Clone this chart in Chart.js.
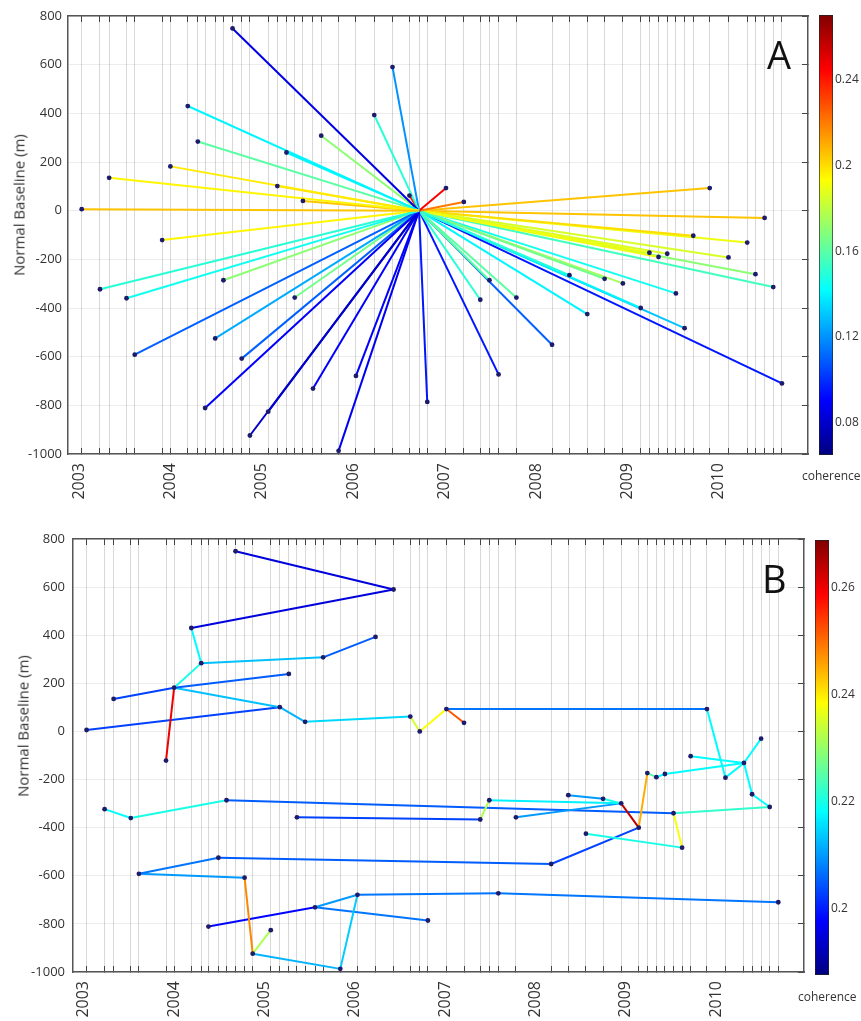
<!DOCTYPE html>
<html><head><meta charset="utf-8">
<script src="https://cdn.jsdelivr.net/npm/chart.js@4/dist/chart.umd.min.js"></script>
<style>
html,body{margin:0;padding:0;background:#fff}
body{width:861px;height:1021px;position:relative;overflow:hidden;font-family:"Open Sans",sans-serif}
canvas{position:absolute}
.t{position:absolute;font-family:"Open Sans",sans-serif;color:#333;white-space:nowrap;line-height:1}
</style></head><body>
<canvas id="mainA" width="812" height="515" style="left:0;top:0"></canvas>
<canvas id="barA" width="49" height="515" style="left:812px;top:0"></canvas>
<canvas id="mainB" width="808" height="501" style="left:0;top:520px"></canvas>
<canvas id="barB" width="53" height="501" style="left:808px;top:520px"></canvas>
<div class="t" style="left:19px;top:205px;font-size:15px;transform:translate(-50%,-50%) rotate(-90deg)">Normal Baseline (m)</div>
<div class="t" style="left:23px;top:726px;font-size:15px;transform:translate(-50%,-50%) rotate(-90deg)">Normal Baseline (m)</div>
<div class="t" style="left:767px;top:35px;font-size:38px;color:#111">A</div>
<div class="t" style="left:762px;top:559px;font-size:38px;color:#111">B</div>
<div class="t" style="left:802px;top:470px;font-size:12px">coherence</div>
<div class="t" style="left:798px;top:991px;font-size:12px">coherence</div>
<script>
// ---------------- data ----------------
const yearTicks = [2003, 2004, 2005, 2006, 2007, 2008, 2009, 2010];
// acquisition dates (decimal year) and normal baselines (m)
const acqDates = [2003.03, 2003.23, 2003.33, 2003.52, 2003.61, 2003.91, 2004.0, 2004.19, 2004.30, 2004.38,
  2004.49, 2004.58, 2004.68, 2004.78, 2004.87, 2005.07, 2005.17, 2005.27, 2005.36, 2005.45,
  2005.56, 2005.65, 2005.84, 2006.03, 2006.23, 2006.43, 2006.615, 2006.72, 2006.81, 2007.015,
  2007.21, 2007.39, 2007.49, 2007.59, 2007.785, 2008.175, 2008.365, 2008.56, 2008.75, 2008.95,
  2009.145, 2009.24, 2009.34, 2009.435, 2009.53, 2009.625, 2009.72, 2009.90, 2010.105, 2010.31,
  2010.40, 2010.50, 2010.595, 2010.69];
const normalBaseline = [6, -323, 135, -360, -592, -121, 182, 430, 284, -811,
  -525, -286, 749, -608, -924, -826, 101, 239, -357, 40,
  -731, 308, -987, -679, 393, 590, 62, 0, -786, 93,
  36, -366, -286, -673, -357, -551, -265, -425, -280, -299,
  -400, -173, -190, -177, -340, -483, -103, 93, -192, -131,
  -261, -30, -314, -710];
const masterNumber = 28; // acquisition number (1-based) of the common master
// panel A: coherence of each acquisition with the master
const coherenceA = [0.205, 0.15, 0.195, 0.145, 0.11, 0.195, 0.197, 0.14, 0.16, 0.09,
  0.125, 0.17, 0.085, 0.11, 0.08, 0.08, 0.2, 0.14, 0.165, 0.205,
  0.09, 0.17, 0.088, 0.09, 0.15, 0.12, 0.24, null, 0.095, 0.245,
  0.22, 0.15, 0.16, 0.095, 0.16, 0.11, 0.15, 0.14, 0.165, 0.175,
  0.14, 0.19, 0.19, 0.185, 0.145, 0.13, 0.2, 0.205, 0.185, 0.19,
  0.17, 0.205, 0.155, 0.095];
// panel B: interferogram network (acquisition numbers, 1-based) and coherence
const edgeFrom = [13, 26, 8, 9, 22, 9, 3, 7, 7, 7, 1, 17, 20, 27, 28, 30, 30, 48, 49, 50,
  50, 50, 44, 43, 42, 41, 40, 39, 40, 33, 32, 35, 12, 45, 53, 51, 45, 46, 2, 4,
  5, 11, 36, 5, 14, 15, 15, 23, 24, 34, 10, 21, 21];
const edgeTo = [26, 8, 9, 22, 25, 7, 7, 18, 6, 17, 17, 20, 27, 28, 30, 31, 48, 49, 50, 52,
  47, 44, 43, 42, 41, 40, 39, 37, 33, 32, 19, 40, 45, 53, 51, 50, 46, 38, 4, 12,
  11, 36, 41, 14, 15, 16, 23, 24, 34, 54, 21, 24, 29];
const coherenceB = [0.195, 0.195, 0.218, 0.213, 0.205, 0.22, 0.203, 0.205, 0.26, 0.213,
  0.203, 0.212, 0.215, 0.235, 0.238, 0.252, 0.207, 0.218, 0.218, 0.218,
  0.218, 0.218, 0.218, 0.225, 0.245, 0.264, 0.22, 0.21, 0.217, 0.232,
  0.203, 0.21, 0.205, 0.222, 0.218, 0.218, 0.238, 0.22, 0.218, 0.22,
  0.207, 0.205, 0.203, 0.21, 0.248, 0.232, 0.212, 0.214, 0.207, 0.207,
  0.198, 0.21, 0.207];
const colorRangeA = [0.065, 0.27];
const colorRangeB = [0.1875, 0.269];
const colorbarTicksA = [0.08, 0.12, 0.16, 0.2, 0.24];
const colorbarTicksB = [0.2, 0.22, 0.24, 0.26];

// ---------------- helpers ----------------
const FONT = '"Open Sans", sans-serif';
Chart.defaults.font.family = FONT;
Chart.defaults.color = '#333';
function clamp(v){return Math.max(0, Math.min(1, v));}
function jet(t){
  t = clamp(t);
  const r = clamp(1.5 - Math.abs(4*t - 3)), g = clamp(1.5 - Math.abs(4*t - 2)), b = clamp(1.5 - Math.abs(4*t - 1));
  return 'rgb(' + Math.round(r*255) + ',' + Math.round(g*255) + ',' + Math.round(b*255) + ')';
}
function cmap(v, range){return jet((v - range[0]) / (range[1] - range[0]));}
const X_MIN = 2002.88, X_MAX = 2010.975;
const xTickValues = [...new Set([...acqDates, ...yearTicks])].sort((a, b) => a - b);
const isOnlyYear = v => yearTicks.includes(v) && !acqDates.includes(v);
function zeroPad(s){s.paddingTop = 0; s.paddingBottom = 0; s.paddingLeft = 0; s.paddingRight = 0;}
const pt = n => ({x: acqDates[n-1], y: normalBaseline[n-1]});

function mainChart(id, segs, dots, range, g){
  const datasets = [{
    data: dots, showLine: false, pointRadius: 2.4, pointBackgroundColor: '#1d1b6b',
    pointBorderWidth: 0, order: 0
  }];
  segs.forEach(s => datasets.push({
    data: [s.a, s.b], showLine: true, borderColor: cmap(s.c, range), borderWidth: 2,
    pointRadius: 0, order: 1, fill: false
  }));
  return new Chart(document.getElementById(id), {
    type: 'scatter',
    data: {datasets},
    options: {
      responsive: false, animation: false, devicePixelRatio: 1, events: [],
      layout: {padding: 0},
      plugins: {legend: {display: false}, tooltip: {enabled: false}},
      scales: {
        x: {
          type: 'linear', position: 'bottom', min: X_MIN, max: X_MAX,
          afterBuildTicks: s => { s.ticks = xTickValues.map(v => ({value: v})); },
          afterFit: s => { s.height = g.bottomH; zeroPad(s); },
          ticks: {autoSkip: false, minRotation: 90, maxRotation: 90, padding: 15,
            font: {size: 16}, color: '#333',
            callback: v => yearTicks.includes(v) ? String(v) : ''},
          grid: {color: c => isOnlyYear(c.tick && c.tick.value) ? 'rgba(0,0,0,0)' : '#d8d8d8',
            tickColor: c => isOnlyYear(c.tick && c.tick.value) ? 'rgba(0,0,0,0)' : '#444',
            tickLength: -6, lineWidth: 1, tickWidth: 1},
          border: {display: true, color: '#555', width: 1.5}
        },
        x2: {
          type: 'linear', position: 'top', min: X_MIN, max: X_MAX,
          afterBuildTicks: s => { s.ticks = acqDates.map(v => ({value: v})); },
          afterFit: s => { s.height = g.topH; zeroPad(s); },
          ticks: {display: false},
          grid: {drawOnChartArea: false, tickLength: -6, tickColor: '#444', tickWidth: 1},
          border: {display: true, color: '#555', width: 1.5}
        },
        y: {
          type: 'linear', position: 'left', min: -1000, max: 800,
          afterFit: s => { s.width = g.leftW; zeroPad(s); },
          ticks: {stepSize: 200, font: {size: 13}, color: '#333', padding: g.yPad, callback: v => String(v)},
          grid: {color: 'rgba(0,0,0,0.07)', drawTicks: false},
          border: {display: true, color: '#555', width: 1.5}
        },
        y2: {
          type: 'linear', position: 'right', min: -1000, max: 800,
          afterFit: s => { s.width = g.rightW; zeroPad(s); },
          ticks: {display: false, stepSize: 200},
          grid: {drawOnChartArea: false, tickLength: -6, tickColor: '#444', tickWidth: 1},
          border: {display: true, color: '#555', width: 1.5}
        }
      }
    }
  });
}

function colorbar(id, range, ticks, g){
  const setTicks = s => { s.ticks = ticks.map(v => ({value: v})); };
  return new Chart(document.getElementById(id), {
    type: 'bar',
    data: {labels: ['c'], datasets: [{
      data: [[range[0], range[1]]], barPercentage: 1, categoryPercentage: 1,
      borderWidth: 1, borderColor: '#222', borderSkipped: false,
      backgroundColor: c => {
        const ch = c.chart; if (!ch.chartArea) return '#00f';
        const ys = ch.scales.y;
        const gr = ch.ctx.createLinearGradient(0, ys.getPixelForValue(range[0]), 0, ys.getPixelForValue(range[1]));
        for (let i = 0; i <= 40; i++) gr.addColorStop(i/40, jet(i/40));
        return gr;
      }
    }]},
    options: {
      responsive: false, animation: false, devicePixelRatio: 1, events: [],
      layout: {padding: {left: 7, top: g.top, bottom: g.bottom, right: 0}},
      plugins: {legend: {display: false}, tooltip: {enabled: false}},
      scales: {
        x: {display: false},
        y: {
          position: 'right', min: range[0], max: range[1], z: 2,
          afterBuildTicks: setTicks,
          afterFit: s => { s.width = g.axisW; zeroPad(s); },
          ticks: {padding: 6, font: {size: 12}, color: '#333', callback: v => String(v)},
          grid: {drawOnChartArea: false, tickLength: -4, tickColor: '#111', tickWidth: 1.5},
          border: {display: false}
        },
        yl: {
          position: 'left', min: range[0], max: range[1], z: 2,
          afterBuildTicks: setTicks,
          afterFit: s => { s.width = 0; zeroPad(s); },
          ticks: {display: false},
          grid: {drawOnChartArea: false, tickLength: -4, tickColor: '#111', tickWidth: 1.5},
          border: {display: false}
        }
      }
    }
  });
}

// ---------------- panel A ----------------
const segsA = [], dotsA = [];
acqDates.forEach((d, i) => {
  const n = i + 1;
  if (n === masterNumber) return;
  segsA.push({a: pt(masterNumber), b: pt(n), c: coherenceA[i]});
  dotsA.push(pt(n));
});
mainChart('mainA', segsA, dotsA, colorRangeA, {bottomH: 61, topH: 16, leftW: 68, rightW: 3, yPad: 6});
colorbar('barA', colorRangeA, colorbarTicksA, {top: 15, bottom: 60, axisW: 28});

// ---------------- panel B ----------------
const segsB = edgeFrom.map((f, i) => ({a: pt(f), b: pt(edgeTo[i]), c: coherenceB[i]}));
const dotsB = acqDates.map((d, i) => pt(i + 1));
mainChart('mainB', segsB, dotsB, colorRangeB, {bottomH: 49, topH: 19, leftW: 73, rightW: 3, yPad: 8});
colorbar('barB', colorRangeB, colorbarTicksB, {top: 20, bottom: 46, axisW: 32});
</script>
</body></html>
